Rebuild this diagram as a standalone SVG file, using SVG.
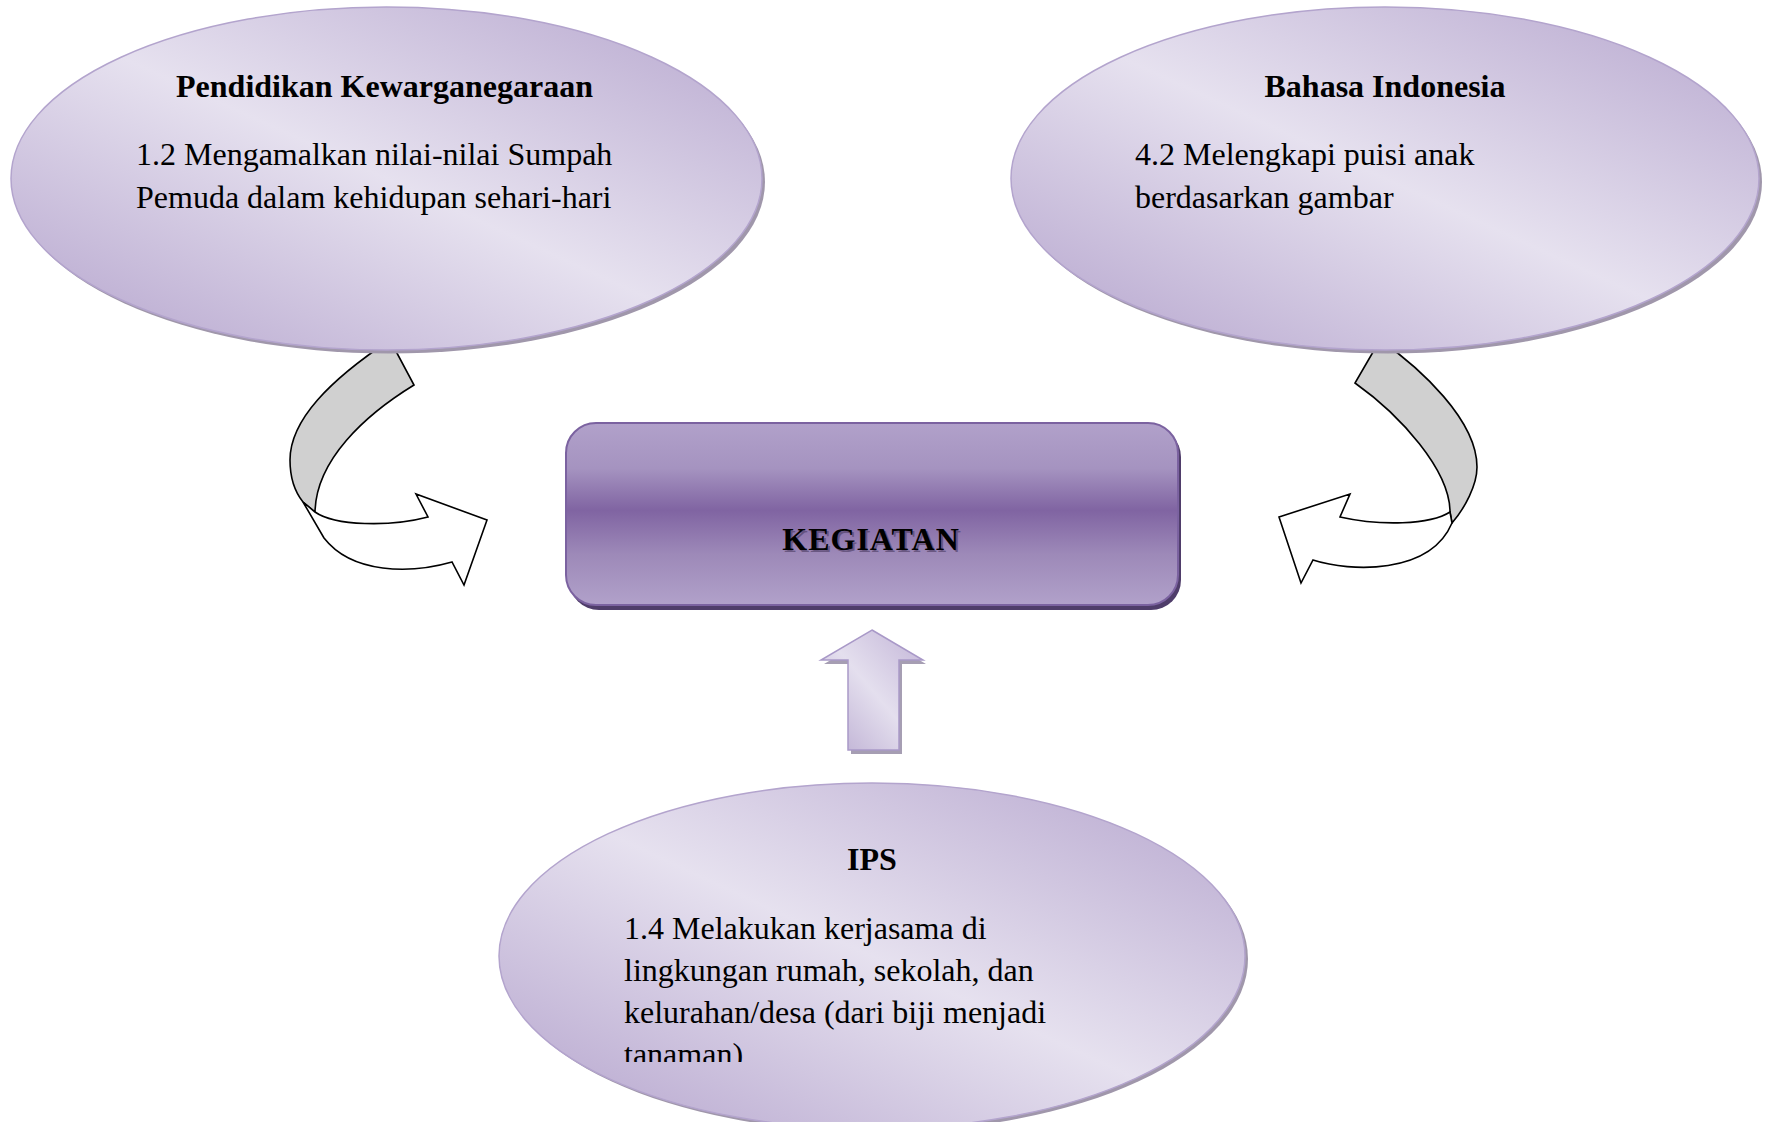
<svg xmlns="http://www.w3.org/2000/svg" width="1768" height="1122" viewBox="0 0 1768 1122">
<defs>
<linearGradient id="ellGrad" x1="0" y1="1" x2="1" y2="0">
<stop offset="0" stop-color="#b3a2cc"/>
<stop offset="0.5" stop-color="#e6e1ef"/>
<stop offset="1" stop-color="#b6a6ce"/>
</linearGradient>
<linearGradient id="rectGrad" x1="0" y1="0" x2="0" y2="1">
<stop offset="0" stop-color="#b1a1ca"/>
<stop offset="0.25" stop-color="#a593c0"/>
<stop offset="0.48" stop-color="#8064a2"/>
<stop offset="0.72" stop-color="#9d89b8"/>
<stop offset="1" stop-color="#b1a1ca"/>
</linearGradient>
<linearGradient id="upGrad" x1="0" y1="1" x2="1" y2="0">
<stop offset="0" stop-color="#b9aad0"/>
<stop offset="0.5" stop-color="#e4dfee"/>
<stop offset="1" stop-color="#c2b4d7"/>
</linearGradient>
<clipPath id="ipsClip"><rect x="500" y="780" width="760" height="282"/></clipPath>
<style>
.ell{fill:url(#ellGrad);stroke:#b3a4cd;stroke-width:1.5}
.shadow{fill:#a097ab}
.title{font-family:"Liberation Serif","Times New Roman",serif;font-weight:bold;font-size:32px;fill:#000}
.body{font-family:"Liberation Serif","Times New Roman",serif;font-size:32px;fill:#000}
.curve{stroke:#000;stroke-width:1.6;stroke-linejoin:miter}
.gray{fill:#d0d0d0}
.white{fill:#ffffff}
</style>
</defs>
<rect width="1768" height="1122" fill="#ffffff"/>

<g id="connectors">
<g id="arrow-left">
<path class="curve gray" d="M390,340 C330,380 290,420 290,460 C290,478 295,492 303,502 L315,512 C316,460 365,415 414,385 Z"/>
<path class="curve white" d="M315,512 C335,526 390,527 428,517 L416,494 L487,520 L464,585 L452,562 C410,574 352,574 324,538 L303,502 Z"/>
</g>
<g id="arrow-right">
<path class="curve gray" d="M1380,340 C1420,368 1477,420 1477,467 C1477,485 1465,508 1452,523 L1450,512 C1450,470 1400,415 1355,383 Z"/>
<path class="curve white" d="M1450,512 C1430,525 1380,526 1340,517 L1350,494 L1279,517 L1301,583 L1313,560 C1350,572 1430,575 1452,523 Z"/>
</g>
<g id="arrow-up">
<polygon points="875,634 926,664 902,664 902,754 851,754 851,664 824,664" fill="#a69eb3"/>
<polygon points="872,630 923,660 899,660 899,750 848,750 848,660 821,660" fill="url(#upGrad)" stroke="#a999c8" stroke-width="1.5"/>
</g>
</g>

<g id="node-pkn">
<ellipse cx="389.5" cy="182" rx="375.5" ry="171.5" class="shadow"/>
<ellipse cx="386.5" cy="178.5" rx="375.5" ry="171.5" class="ell"/>
<text x="384.5" y="97" class="title" text-anchor="middle">Pendidikan Kewarganegaraan</text>
<text x="136" y="165" class="body">1.2 Mengamalkan nilai-nilai Sumpah</text>
<text x="136" y="208" class="body">Pemuda dalam kehidupan sehari-hari</text>
</g>

<g id="node-bi">
<ellipse cx="1388" cy="182" rx="374" ry="171.5" class="shadow"/>
<ellipse cx="1385" cy="178.5" rx="374" ry="171.5" class="ell"/>
<text x="1385" y="97" class="title" text-anchor="middle">Bahasa Indonesia</text>
<text x="1135" y="165" class="body">4.2 Melengkapi puisi anak</text>
<text x="1135" y="208" class="body">berdasarkan gambar</text>
</g>

<g id="node-kegiatan">
<rect x="569" y="427" width="612" height="183" rx="30" ry="30" fill="#4f3d6a"/>
<rect x="566" y="423" width="612" height="182" rx="30" ry="30" fill="url(#rectGrad)" stroke="#7b62a0" stroke-width="2"/>
<text x="873" y="552" text-anchor="middle" font-family="Liberation Serif, serif" font-weight="bold" font-size="32" letter-spacing="1" fill="#4a3a60" opacity="0.6">KEGIATAN</text>
<text x="871" y="550" text-anchor="middle" font-family="Liberation Serif, serif" font-weight="bold" font-size="32" letter-spacing="1" fill="#000">KEGIATAN</text>
</g>

<g id="node-ips">
<ellipse cx="875" cy="959" rx="373" ry="173" class="shadow"/>
<ellipse cx="872" cy="956" rx="373" ry="173" class="ell"/>
<text x="872" y="870" class="title" text-anchor="middle">IPS</text>
<g clip-path="url(#ipsClip)">
<text x="624" y="939" class="body">1.4 Melakukan kerjasama di</text>
<text x="624" y="981" class="body">lingkungan rumah, sekolah, dan</text>
<text x="624" y="1023" class="body">kelurahan/desa (dari biji menjadi</text>
<text x="624" y="1065" class="body">tanaman)</text>
</g>
</g>
</svg>
